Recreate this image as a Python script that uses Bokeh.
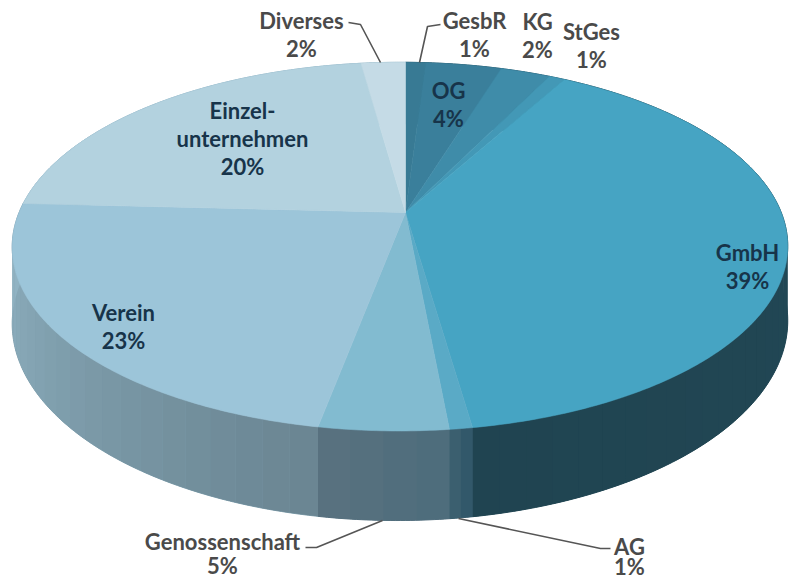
import numpy as np
from bokeh.plotting import figure
from bokeh.models import Range1d
from bokeh.core.properties import value
from bokeh.embed import file_html
from bokeh.resources import INLINE

# Data: clockwise from the top, shares
categories = ["GesbR", "OG", "KG", "StGes", "GmbH", "AG", "Genossenschaft", "Verein", "Einzelunternehmen", "Diverses"]
shares = [1.0, 3.8, 2.5, 0.8, 39.6, 0.8, 4.5, 22.8, 22.0, 2.2]
labels = ["GesbR\n1%", "OG\n4%", "KG\n2%", "StGes\n1%", "GmbH\n39%", "AG\n1%", "Genossenschaft\n5%", "Verein\n23%", "Einzel-\nunternehmen\n20%", "Diverses\n2%"]
top_colors = ["#387A94", "#3A7F9B", "#3F8CA9", "#4398B6", "#46A4C3", "#5AAAC6", "#82BBD0", "#9CC5D9", "#B3D2DF", "#C5DBE6"]
side_start = ["#2A5A6C", "#2A5A6C", "#2A5A6C", "#2A5A6C", "#234A58", "#2E5567", "#4C6C7B", "#6A8592", "#8FB3C4", "#8FB3C4"]
side_end = ["#2A5A6C", "#2A5A6C", "#2A5A6C", "#2A5A6C", "#204451", "#3F6272", "#5A7280", "#93B6C6", "#8FB3C4", "#8FB3C4"]

# Projection of the tilted disc
APEX_X, APEX_Y, RX, RY, K, M, DEPTH = 405, 212, 381, 178, 0.185, -0.014, 73


def project(theta, depth=0.0):
    u, v = np.sin(theta), -np.cos(theta)
    f = 1 / (1 - K * v - M * u)
    return APEX_X + RX * u * f, APEX_Y + RY * v * f + depth * f


def hex_rgb(c):
    return np.array([int(c[i:i + 2], 16) for i in (1, 3, 5)], dtype=float)


p = figure(width=789, height=582, output_backend="svg", toolbar_location=None,
           x_range=Range1d(0, 789), y_range=Range1d(582, 0), min_border=0)
p.axis.visible = False
p.grid.visible = False
p.outline_line_color = None
p.background_fill_color = "white"

edges = 2 * np.pi * np.concatenate([[0], np.cumsum(shares)]) / sum(shares)

# Side wall: a solid base per slice, then bands of the gradient
bx, by, bc, sx, sy, sc = [], [], [], [], [], []
for a, b, c0, c1 in zip(edges[:-1], edges[1:], side_start, side_end):
    t = np.linspace(a, b, max(3, int((b - a) / 0.01)))
    x0, y0 = project(t)
    x1, y1 = project(t[::-1], DEPTH)
    c0, c1 = hex_rgb(c0), hex_rgb(c1)
    mid = (c0 + c1) / 2
    bx.append(list(x0) + list(x1))
    by.append(list(y0) + list(y1))
    bc.append("#%02X%02X%02X" % tuple(int(round(q)) for q in mid))
    n = max(2, int((b - a) / 0.06))
    tt = np.linspace(a, b, n + 1)
    for i in range(n):
        ts = np.linspace(tt[i], tt[i + 1], 6)
        x0, y0 = project(ts)
        x1, y1 = project(ts[::-1], DEPTH)
        sx.append(list(x0) + list(x1))
        sy.append(list(y0) + list(y1))
        rgb = c0 + (c1 - c0) * (i + 0.5) / n
        sc.append("#%02X%02X%02X" % tuple(int(round(q)) for q in rgb))
p.patches(bx, by, fill_color=bc, line_color=bc, line_width=1)
p.patches(sx, sy, fill_color=sc, line_color=None)

# Top face
for a, b, c in zip(edges[:-1], edges[1:], top_colors):
    t = np.linspace(a, b, max(3, int((b - a) / 0.01)))
    x, y = project(t)
    p.patch([APEX_X, *x], [APEX_Y, *y], fill_color=c, line_color=c, line_width=0.6)

# Leader lines
leaders = [([348, 360, 380], [22, 24, 62]), ([440, 427, 419], [24, 26, 62]),
           ([305, 316, 382], [547, 547, 520]), ([610, 600, 458], [548, 548, 518])]
for lx, ly in leaders:
    p.line(lx, ly, line_color="#555555", line_width=1.6)

# Labels
pos = {"GesbR": (474, 34), "OG": (448, 104), "KG": (537, 35), "StGes": (591, 45), "GmbH": (747, 266),
       "AG": (629, 556), "Genossenschaft": (222, 553), "Verein": (123, 326), "Einzelunternehmen": (242, 138), "Diverses": (301, 34)}
inner = {"OG", "GmbH", "Verein", "Einzelunternehmen"}
steps = {"AG": 20, "Genossenschaft": 24}
for cat, lab in zip(categories, labels):
    lines = lab.split("\n")
    cx, cy = pos[cat]
    step = steps.get(cat, 28)
    for i, s in enumerate(lines):
        p.text([cx], [cy + (i - (len(lines) - 1) / 2) * step], text=[s], text_align="center", text_baseline="middle",
               text_font=value("Lato"), text_font_style="bold", text_font_size="22px",
               text_color="#17344A" if cat in inner else "#4A4A4A")

open("out.html", "w").write(file_html(p, INLINE))
